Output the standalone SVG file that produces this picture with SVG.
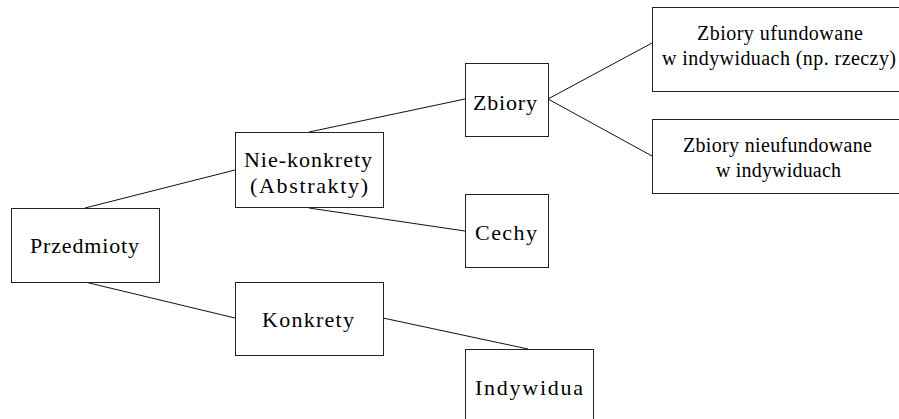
<svg xmlns="http://www.w3.org/2000/svg" width="899" height="419" viewBox="0 0 899 419">
<style>
.box{fill:#fff;stroke:#222;stroke-width:1}
.c line{stroke:#111;stroke-width:1}
</style>
<rect width="899" height="419" fill="#fff"/>
<g class="c" id="connectors">
<line x1="85" y1="208" x2="235" y2="170"/>
<line x1="85" y1="282" x2="235" y2="318"/>
<line x1="309" y1="132" x2="465" y2="99"/>
<line x1="309" y1="208" x2="465" y2="231"/>
<line x1="383" y1="318" x2="528" y2="349"/>
<line x1="548" y1="99" x2="652" y2="43"/>
<line x1="548" y1="99" x2="652" y2="156"/>
</g>
<g font-family="'Liberation Serif', 'Times New Roman', serif" font-size="22" fill="#000">
<g id="przedmioty">
<rect class="box" x="11.5" y="208.5" width="148" height="74"/>
<text x="30" y="253" textLength="109" lengthAdjust="spacing">Przedmioty</text>
</g>
<g id="niekonkrety">
<rect class="box" x="235.5" y="132.5" width="148" height="75"/>
<text x="244" y="167" textLength="128" lengthAdjust="spacing">Nie-konkrety</text>
<text x="250" y="193" textLength="118" lengthAdjust="spacing">(Abstrakty)</text>
</g>
<g id="konkrety">
<rect class="box" x="235.5" y="282.5" width="148" height="73"/>
<text x="262" y="327" textLength="92" lengthAdjust="spacing">Konkrety</text>
</g>
<g id="zbiory">
<rect class="box" x="465.5" y="63.5" width="83" height="73"/>
<text x="473" y="110" textLength="64" lengthAdjust="spacing">Zbiory</text>
</g>
<g id="cechy">
<rect class="box" x="465.5" y="194.5" width="83" height="73"/>
<text x="475" y="240" textLength="62" lengthAdjust="spacing">Cechy</text>
</g>
<g id="indywidua">
<rect class="box" x="465.5" y="349.5" width="128" height="80"/>
<text x="475" y="395" textLength="108" lengthAdjust="spacing">Indywidua</text>
</g>
<g id="ufundowane" font-size="20">
<rect class="box" x="652.5" y="7.5" width="250" height="84"/>
<text x="697" y="40" textLength="166" lengthAdjust="spacing">Zbiory ufundowane</text>
<text x="662" y="65" textLength="234" lengthAdjust="spacing">w indywiduach (np. rzeczy)</text>
</g>
<g id="nieufundowane" font-size="20">
<rect class="box" x="652.5" y="119.5" width="250" height="74"/>
<text x="683" y="152" textLength="189" lengthAdjust="spacing">Zbiory nieufundowane</text>
<text x="716" y="177" textLength="125" lengthAdjust="spacing">w indywiduach</text>
</g>
</g>
</svg>
